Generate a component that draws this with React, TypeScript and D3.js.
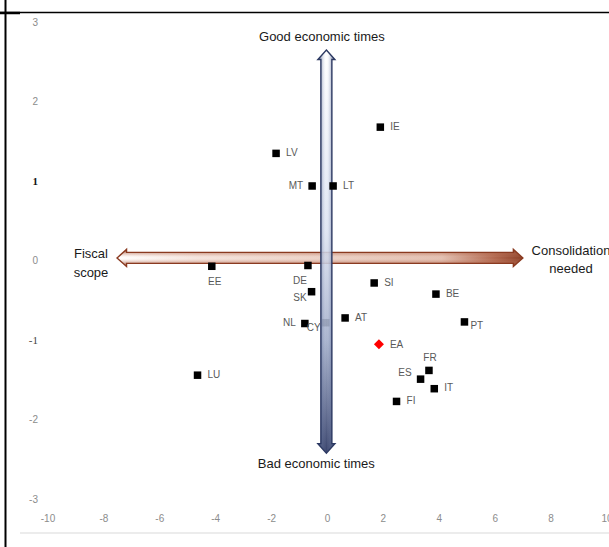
import React, { useEffect, useRef } from "react";
import * as d3 from "d3";

// Country codes and their coordinates (x: fiscal stance gap, y: economic conditions)
const countries = ["IE", "LV", "MT", "LT", "EE", "DE", "SK", "NL", "CY", "AT", "SI", "BE", "PT", "FR", "ES", "IT", "FI", "LU"];
const xValues = [1.89, -1.84, -0.55, 0.2, -4.14, -0.7, -0.57, -0.81, -0.06, 0.63, 1.67, 3.88, 4.9, 3.63, 3.33, 3.82, 2.47, -4.65];
const yValues = [1.69, 1.36, 0.95, 0.95, -0.06, -0.05, -0.38, -0.78, -0.77, -0.71, -0.27, -0.41, -0.76, -1.37, -1.48, -1.6, -1.76, -1.43];

// Euro area aggregate
const eaLabel = "EA";
const eaX = 1.84;
const eaY = -1.04;

const xTicks = [-10, -8, -6, -4, -2, 0, 2, 4, 6, 8, 10];
const yTicks = [3, 2, 1, 0, -1, -2, -3];

// where each label sits relative to its marker
const labelSide: Record<string, string> = {
  IE: "right", LV: "right", MT: "left", LT: "right", EE: "below", DE: "belowLeft",
  SK: "leftLow", NL: "left", CY: "cy", AT: "right", SI: "right", BE: "right",
  PT: "rightLow", FR: "above", ES: "leftHigh", IT: "right", FI: "right", LU: "right",
};

const W = 609;
const H = 547;

export default function App() {
  const svgRef = useRef<SVGSVGElement>(null);

  useEffect(() => {
    if (!svgRef.current) return;
    const svg = d3.select(svgRef.current);
    svg.selectAll("*").remove();

    const x = d3.scaleLinear().domain([-10, 10]).range([48, 607]);
    const y = d3.scaleLinear().domain([-3, 3]).range([500, 23]);

    const font = "'Liberation Sans', Arial, sans-serif";
    const tickColor = "#8c8c8c";
    const labelColor = "#595959";

    svg.append("rect").attr("width", W).attr("height", H).attr("fill", "#fff");

    // frame lines of the page
    svg.append("line").attr("x1", 0).attr("x2", W).attr("y1", 12.5).attr("y2", 12.5)
      .attr("stroke", "#000").attr("stroke-width", 1.3);
    svg.append("line").attr("x1", 0).attr("x2", 20).attr("y1", 13).attr("y2", 13)
      .attr("stroke", "#000").attr("stroke-width", 2.5);
    svg.append("line").attr("x1", 5.5).attr("x2", 5.5).attr("y1", 0).attr("y2", H)
      .attr("stroke", "#000").attr("stroke-width", 2);
    svg.append("line").attr("x1", 20).attr("x2", W).attr("y1", 533).attr("y2", 533)
      .attr("stroke", "#d9d9d9").attr("stroke-width", 1);

    // tick labels
    svg.append("g").selectAll("text").data(xTicks).enter().append("text")
      .attr("x", d => x(d)).attr("y", 519)
      .attr("text-anchor", "middle").attr("dominant-baseline", "middle")
      .style("font-family", font).style("font-size", "10px").attr("fill", tickColor)
      .text(d => `${d}`);

    svg.append("g").selectAll("text").data(yTicks).enter().append("text")
      .attr("x", 38).attr("y", d => y(d))
      .attr("text-anchor", "end").attr("dominant-baseline", "middle")
      .style("font-family", d => (Math.abs(d) === 1 ? "'Liberation Serif', serif" : font))
      .style("font-size", d => (Math.abs(d) === 1 ? "11px" : "10px"))
      .style("font-weight", d => (d === 1 ? "bold" : "normal"))
      .attr("fill", d => (d === 1 ? "#111" : d === -1 ? "#444" : tickColor))
      .text(d => `${d}`);

    const data = countries.map((c, i) => ({ c, x: xValues[i], y: yValues[i] }));
    const m = 7.5;

    // CY sits beneath the vertical arrow
    const under = data.filter(d => d.c === "CY");
    const over = data.filter(d => d.c !== "CY");

    const drawMarkers = (rows: typeof data) => {
      svg.append("g").selectAll("rect").data(rows).enter().append("rect")
        .attr("x", d => x(d.x) - m / 2).attr("y", d => y(d.y) - m / 2)
        .attr("width", m).attr("height", m).attr("fill", "#000");
    };
    drawMarkers(under);

    // gradients for the block arrows
    const defs = svg.append("defs");
    const grad = (id: string, x2: number, y2: number, stops: [number, string, number][]) => {
      const g = defs.append("linearGradient").attr("id", id)
        .attr("x1", 0).attr("y1", 0).attr("x2", x2).attr("y2", y2);
      stops.forEach(([o, c, op]) => g.append("stop").attr("offset", `${o}%`).attr("stop-color", c).attr("stop-opacity", op));
    };
    grad("hAlong", 1, 0, [[0, "#ffffff", 1], [20, "#f5e4dd", 1], [80, "#e3bfb0", 1], [93, "#b0644a", 1], [100, "#8a3a20", 1]]);
    grad("hAcross", 0, 1, [[0, "#8a3a20", 0.9], [35, "#c98a73", 0.2], [50, "#ffffff", 0], [65, "#c98a73", 0.2], [100, "#8a3a20", 0.9]]);
    grad("vAlong", 0, 1, [[0, "#ffffff", 0.9], [45, "#dbe2f1", 0.85], [72, "#a0acc9", 0.9], [100, "#38436c", 1]]);
    grad("vAcross", 1, 0, [[0, "#2f3c66", 0.85], [35, "#8b98bb", 0.15], [50, "#ffffff", 0], [65, "#8b98bb", 0.15], [100, "#2f3c66", 0.85]]);

    const sh = 5.5, hh = 8.5, hl = 9.5;

    // horizontal arrow: Fiscal scope <-> Consolidation needed
    const hx1 = x(-7.53), hx2 = x(6.99), hy = y(0.045);
    const hPath = `M${hx1},${hy} L${hx1 + hl},${hy - hh} L${hx1 + hl},${hy - sh} L${hx2 - hl},${hy - sh} L${hx2 - hl},${hy - hh} L${hx2},${hy} L${hx2 - hl},${hy + hh} L${hx2 - hl},${hy + sh} L${hx1 + hl},${hy + sh} L${hx1 + hl},${hy + hh} Z`;
    svg.append("path").attr("d", hPath).attr("fill", "url(#hAlong)");
    svg.append("path").attr("d", hPath).attr("fill", "url(#hAcross)")
      .attr("stroke", "#8a3a20").attr("stroke-width", 1.4).attr("stroke-linejoin", "miter");

    // vertical arrow: Good <-> Bad economic times
    const vx = x(-0.04), vy1 = y(2.66), vy2 = y(-2.41);
    const vPath = `M${vx},${vy1} L${vx + hh},${vy1 + hl} L${vx + sh},${vy1 + hl} L${vx + sh},${vy2 - hl} L${vx + hh},${vy2 - hl} L${vx},${vy2} L${vx - hh},${vy2 - hl} L${vx - sh},${vy2 - hl} L${vx - sh},${vy1 + hl} L${vx - hh},${vy1 + hl} Z`;
    svg.append("path").attr("d", vPath).attr("fill", "url(#vAlong)");
    svg.append("path").attr("d", vPath).attr("fill", "url(#vAcross)")
      .attr("stroke", "#2c3962").attr("stroke-width", 1.4).attr("stroke-linejoin", "miter");

    drawMarkers(over);

    // euro area diamond
    const ex = x(eaX), ey = y(eaY), r = 5;
    svg.append("path").attr("d", `M${ex},${ey - r} L${ex + r},${ey} L${ex},${ey + r} L${ex - r},${ey} Z`)
      .attr("fill", "#ff0000");
    svg.append("text").attr("x", ex + 11).attr("y", ey + 1)
      .attr("dominant-baseline", "middle")
      .style("font-family", font).style("font-size", "10px").attr("fill", labelColor)
      .text(eaLabel);

    // country labels
    const place = (side: string) => {
      switch (side) {
        case "left": return { dx: -9, dy: 0, anchor: "end" };
        case "leftLow": return { dx: -5, dy: 7, anchor: "end" };
        case "leftHigh": return { dx: -9, dy: -6, anchor: "end" };
        case "below": return { dx: 3, dy: 16, anchor: "middle" };
        case "belowLeft": return { dx: -8, dy: 16, anchor: "middle" };
        case "above": return { dx: 1, dy: -12, anchor: "middle" };
        case "rightLow": return { dx: 6, dy: 4, anchor: "start" };
        case "cy": return { dx: -19, dy: 6, anchor: "start" };
        default: return { dx: 10, dy: 0, anchor: "start" };
      }
    };
    svg.append("g").selectAll("text").data(data).enter().append("text")
      .each(function (d) {
        const p = place(labelSide[d.c]);
        d3.select(this)
          .attr("x", x(d.x) + p.dx).attr("y", y(d.y) + p.dy)
          .attr("text-anchor", p.anchor);
      })
      .attr("dominant-baseline", "middle")
      .style("font-family", font).style("font-size", "10px").attr("fill", labelColor)
      .text(d => d.c);

    // arrow captions
    const caption = (lines: string[], cx: number, cy: number, gap: number) => {
      lines.forEach((t, i) => {
        svg.append("text").attr("x", cx).attr("y", cy + i * gap)
          .attr("text-anchor", "middle").attr("dominant-baseline", "middle")
          .style("font-family", font).style("font-size", "13px").attr("fill", "#1a1a1a")
          .text(t);
      });
    };
    caption(["Good economic times"], x(-0.2), 38, 0);
    caption(["Bad economic times"], x(-0.4), 465, 0);
    caption(["Fiscal", "scope"], 91, 255, 19);
    caption(["Consolidation", "needed"], 571, 252, 18);
  }, []);

  return (
    <div style={{ position: "fixed", left: 0, top: 0, width: W, height: H, background: "#fff" }}>
      <svg ref={svgRef} width={W} height={H} style={{ display: "block" }} />
    </div>
  );
}
